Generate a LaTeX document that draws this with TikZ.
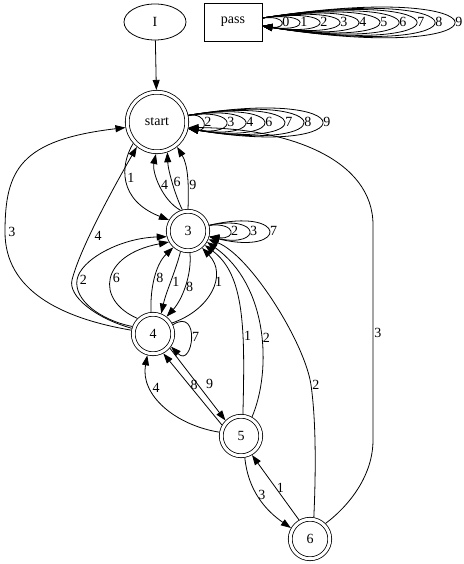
\documentclass[tikz,border=0pt]{standalone}
\usepackage{fontspec}
\setmainfont{Liberation Serif}
\usetikzlibrary{shapes.geometric,arrows.meta}

\begin{document}
\begin{tikzpicture}[
    x=1pt, y=-1pt,
    font=\fontsize{14}{16}\selectfont,
    line width=0.8pt,
    % Nodes
    state/.style={circle, draw, double, double distance=3pt, outer sep=2.3pt, minimum size=39.5pt, inner sep=0pt},
    entry/.style={ellipse, draw, minimum width=62pt, minimum height=36pt, inner sep=0pt},
    sink/.style={rectangle, draw, minimum width=58pt, minimum height=38pt},
    % Transitions
    rel/.style={-{Triangle[length=10pt, width=7pt]}},
    rel_label/.style={inner sep=1pt}
]
\useasboundingbox (0,0) rectangle (463,564);

% Nodes
\node[entry] (init) at (155,22) {I};
\node[sink] (pass) at (233,22) {pass};
\node[state, minimum size=59.5pt] (start) at (157,122) {start};
\node[state] (q3) at (188,231) {3};
\node[state] (q4) at (153,334) {4};
\node[state] (q5) at (241,436) {5};
\node[state] (q6) at (310,539) {6};

\draw[rel] (init) -- (start);

% Self-loops
\foreach \lab/\xr/\h in {0/280.5/3, 1/298.5/7, 2/318.5/11.5, 3/338.5/15.5, 4/357.5/20, 5/378.5/24, 6/397.5/28, 7/415.5/32.5, 8/433.5/36.5, 9/453.5/41}
    \draw[rel] ([yshift=4pt]pass.east) .. controls +({(\xr-262)/0.75},-\h) and +({(\xr-262)/0.75},\h) .. ([yshift=-4pt]pass.east) node[pos=0.5, rel_label, right] {\lab};
\foreach \lab/\xr/\h in {2/202.5/3, 3/225.5/7.5, 4/244.5/12, 6/263.5/16.5, 7/283.5/21, 8/302.5/25.5, 9/321.5/30}
    \draw[rel] (start.12) .. controls +({(\xr-188)/0.75},-\h) and +({(\xr-188)/0.75},\h) .. (start.-12) node[pos=0.5, rel_label, right] {\lab};
\foreach \lab/\xr/\h in {2/229.5/3, 3/248.5/11, 7/268.5/19}
    \draw[rel] (q3.15) .. controls +({(\xr-209)/0.75},-\h) and +({(\xr-209)/0.75},\h) .. (q3.-15) node[pos=0.5, rel_label, right] {\lab};
\draw[rel] (q4.25) .. controls +(28,-18) and +(22,22) .. (q4.-35) node[pos=0.5, rel_label, right] {7};

% start and 3
\draw[rel] (start.222) .. controls (120,165) and (118,200) .. (q3.150) node[pos=0.45, rel_label, right] {1};
\draw[rel] (q3.110) .. controls (162,200) and (152,172) .. (start.268) node[pos=0.5, rel_label, right] {4};
\draw[rel] (q3.105) .. controls (175,195) and (168,170) .. (start.289) node[pos=0.5, rel_label, right] {6};
\draw[rel] (q3.90) .. controls (189,185) and (188,165) .. (start.309) node[pos=0.35, rel_label, right] {9};

% from 4 upwards
\draw[rel] (q4.170) .. controls (60,318) and (5,290) .. (5,232) node[rel_label, right=2pt] {3} .. controls (5,170) and (20,140) .. (start.190);
\draw[rel] (q4.165) .. controls (95,318) and (68,296) .. (72,280) .. controls (80,248) and (115,185) .. (start.231) node[pos=0.36, rel_label, right=4pt] {4};
\draw[rel] (q4.160) .. controls (100,320) and (74,300) .. (77,280) node[rel_label, right=1.5pt] {2} .. controls (80,260) and (120,238) .. (q3.195);
\draw[rel] (q4.135) .. controls (95,300) and (100,255) .. (q3.210) node[pos=0.5, rel_label, right] {6};
\draw[rel] (q4.95) .. controls (150,290) and (155,265) .. (q3.228) node[pos=0.5, rel_label, right] {8};
\draw[rel] (q3.250) .. controls (176,270) and (166,292) .. (q4.68) node[pos=0.5, rel_label, right] {1};
\draw[rel] (q3.275) .. controls (192,275) and (182,300) .. (q4.52) node[pos=0.5, rel_label, right] {8};
\draw[rel] (q4.30) .. controls (210,310) and (228,275) .. (q3.-50) node[pos=0.6, rel_label, right] {1};

% 4 and 5
\draw[rel] (q4.-40) -- (q5.135) node[pos=0.5, rel_label, right=7pt] {9};
\draw[rel] (q5.150) -- (q4.-62) node[pos=0.56, rel_label, right] {8};
\draw[rel] (q5.170) .. controls (175,425) and (140,395) .. (q4.-105) node[pos=0.7, rel_label, right] {4};

% 5 and 6 back to 3
\draw[rel] (q5.85) .. controls (245,330) and (245,275) .. (q3.-40) node[pos=0.35, rel_label, right] {1};
\draw[rel] (q5.60) .. controls (272,370) and (268,285) .. (q3.-30) node[pos=0.45, rel_label, right] {2};
\draw[rel] (q6.80) .. controls (316,470) and (316,420) .. (311,385) node[rel_label, right] {2} .. controls (305,343) and (250,255) .. (q3.-22);
\draw[rel] (q6.45) .. controls (350,505) and (373,475) .. (373,440) -- (373,225) node[pos=0.5, rel_label, right] {3} .. controls (373,160) and (290,128) .. (start.-10);

% 5 and 6
\draw[rel] (q5.-80) .. controls (248,490) and (265,510) .. (q6.150) node[pos=0.45, rel_label, right] {3};
\draw[rel] (q6.120) -- (q5.-60) node[pos=0.5, rel_label, right] {1};

\end{tikzpicture}
\end{document}
